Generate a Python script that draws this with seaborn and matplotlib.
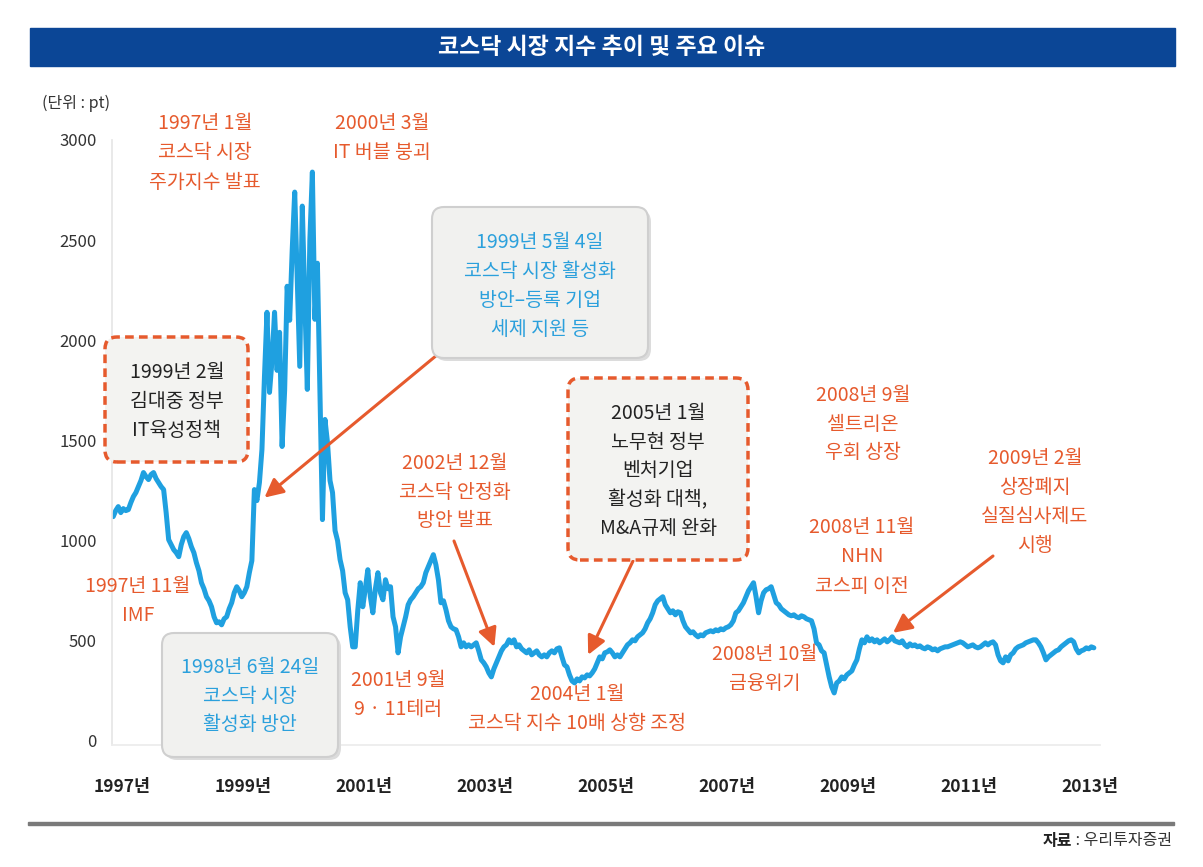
import matplotlib
matplotlib.use('Agg')
import matplotlib.pyplot as plt
from matplotlib.patches import FancyBboxPatch, Rectangle
from matplotlib.transforms import ScaledTranslation
import seaborn as sns
import numpy as np
import pandas as pd

# KOSDAQ index, two readings per month from Jan 1997
start_year = 1997
steps_per_year = 24
kosdaq = [
    1120, 1150, 1170, 1140, 1160, 1150, 1155, 1190, 1220, 1240, 1270, 1300,
    1340, 1320, 1305, 1330, 1340, 1310, 1290, 1270, 1255, 1140, 1005, 980,
    955, 940, 920, 980, 1020, 1040, 1010, 970, 940, 890, 850, 790,
    760, 720, 700, 670, 620, 590, 595, 580, 610, 620, 660, 690,
    740, 770, 750, 720, 740, 770, 840, 900, 1255, 1200, 1290, 1455,
    1820, 2140, 1740, 1900, 2140, 1850, 2040, 1470, 1750, 2270, 2100, 2450,
    2740, 2300, 1870, 2670, 2200, 1755, 2500, 2840, 2105, 2385, 1740, 1105,
    1605, 1490, 1300, 1240, 1050, 1000, 905, 850, 740, 705, 570, 470,
    470, 650, 790, 670, 760, 855, 720, 640, 760, 840, 740, 705,
    805, 760, 770, 620, 570, 440, 520, 570, 620, 680, 705, 720,
    740, 760, 770, 790, 840, 870, 900, 930, 880, 805, 690, 700,
    655, 600, 570, 560, 555, 520, 470, 490, 470, 480, 470, 480,
    490, 450, 405, 390, 370, 340, 320, 360, 390, 420, 450, 470,
    480, 505, 490, 505, 470, 480, 460, 450, 440, 455, 430, 440,
    450, 430, 420, 430, 420, 440, 450, 440, 460, 465, 420, 380,
    370, 330, 300, 290, 310, 300, 320, 315, 330, 325, 340, 360,
    390, 420, 410, 440, 445, 455, 440, 420, 430, 420, 440, 460,
    480, 490, 505, 500, 520, 530, 540, 560, 590, 610, 640, 680,
    700, 710, 720, 680, 660, 640, 650, 630, 645, 640, 600, 570,
    555, 540, 545, 530, 520, 530, 525, 540, 545, 550, 545, 555,
    550, 560, 555, 565, 570, 580, 600, 640, 650, 670, 690, 720,
    750, 770, 790, 720, 640, 700, 740, 755, 760, 770, 730, 690,
    680, 660, 650, 640, 630, 625, 630, 620, 615, 625, 620, 610,
    605, 600, 560, 490, 480, 450, 440, 380, 320, 270, 240, 290,
    300, 320, 310, 330, 340, 350, 380, 405, 460, 505, 490, 520,
    500, 510, 495, 505, 490, 500, 510, 495, 505, 520, 500, 495,
    490, 500, 480, 470, 485, 475, 480, 470, 475, 465, 460, 470,
    465, 455, 460, 450, 460, 465, 470, 470, 475, 480, 485, 490,
    495, 490, 480, 470, 475, 480, 470, 465, 470, 480, 490, 480,
    490, 495, 480, 430, 400, 390, 420, 400, 430, 440, 460, 470,
    475, 480, 490, 495, 500, 505, 505, 490, 470, 440, 405, 420,
    430, 440, 450, 455, 470, 480, 490, 500, 505, 495, 460, 440,
    450, 455, 465, 460, 470, 465,
]

tick_years = [1997, 1999, 2001, 2003, 2005, 2007, 2009, 2011, 2013]
tick_labels = [f'{y}년' for y in tick_years]
y_ticks = [0, 500, 1000, 1500, 2000, 2500, 3000]

title = '코스닥 시장 지수 추이 및 주요 이슈'
unit_label = '(단위 : pt)'
source_head = '자료'
source_body = ' : 우리투자증권'

years = start_year + np.arange(len(kosdaq)) / steps_per_year
df = pd.DataFrame({'year': years, 'index': kosdaq})

W, H = 1203, 867
ORANGE = '#e65a2d'
BLUE_TXT = '#2ba0dc'
LINE = '#1fa0e0'

sns.set_theme(style='white')
plt.rcParams['font.family'] = ['Noto Sans CJK KR', 'DejaVu Sans']

fig = plt.figure(figsize=(W / 100, H / 100), dpi=100)
ax = fig.add_axes([112 / W, 1 - 745 / H, 988 / W, 605 / H])

sns.lineplot(data=df, x='year', y='index', color=LINE, linewidth=3.6, ax=ax)

ax.set_xlim(1996.98, 2013.31)
ax.set_ylim(-20, 3000)
ax.set_xticks(tick_years)
ax.set_xticklabels(tick_labels, fontsize=12.5, fontweight='bold', color='#222222')
ax.set_yticks(y_ticks)
ax.set_yticklabels([str(v) for v in y_ticks], fontsize=12, fontweight='medium', color='#333333')
ax.tick_params(axis='x', length=0, pad=24)
ax.tick_params(axis='y', length=0, pad=11)
ax.set_xlabel('')
ax.set_ylabel('')
for s in ['top', 'right']:
    ax.spines[s].set_visible(False)
ax.spines['left'].set_color('#e6e6e6')
ax.spines['bottom'].set_color('#ececec')
shift = ScaledTranslation(9 / 100, 0, fig.dpi_scale_trans)
for lab in ax.get_xticklabels():
    lab.set_transform(lab.get_transform() + shift)


def inch(x, y):
    return x / 100, (H - y) / 100


def fx(x, y):
    return x / W, 1 - y / H


# title bar
fig.add_artist(Rectangle(inch(30, 66), 1145 / 100, 38 / 100,
                         transform=fig.dpi_scale_trans, color='#0b4696', zorder=5))
fig.text(*fx(602, 47), title, ha='center', va='center', color='white',
         fontsize=16.5, fontweight='bold', zorder=6)
fig.text(*fx(42, 103), unit_label, ha='left', va='center', color='#333333',
         fontsize=11.5, fontweight='medium')

# footer
fig.add_artist(Rectangle(inch(28, 825), 1146 / 100, 3 / 100,
                         transform=fig.dpi_scale_trans, color='#7a7a7a', zorder=5))
body = fig.text(*fx(1172, 841), source_body, ha='right', va='center', color='#333333',
                fontsize=11.5)
fig.canvas.draw()
bx = body.get_window_extent().x0
fig.text(bx / W, 1 - 841 / H, source_head, ha='right', va='center', color='#222222',
         fontsize=11.5, fontweight='bold')


def box(x0, y0, x1, y1, dashed=False):
    if dashed:
        p = FancyBboxPatch(inch(x0, y1), (x1 - x0) / 100, (y1 - y0) / 100,
                           boxstyle='round,pad=0,rounding_size=0.12',
                           transform=fig.dpi_scale_trans, facecolor='#f3f3f1',
                           edgecolor=ORANGE, linewidth=2.5, linestyle=(0, (2.5, 1.5)), zorder=3)
    else:
        shadow = FancyBboxPatch(inch(x0 + 3, y1 + 3), (x1 - x0) / 100, (y1 - y0) / 100,
                                boxstyle='round,pad=0,rounding_size=0.12',
                                transform=fig.dpi_scale_trans, facecolor='#dcdcdc',
                                edgecolor='none', zorder=3)
        fig.add_artist(shadow)
        p = FancyBboxPatch(inch(x0, y1), (x1 - x0) / 100, (y1 - y0) / 100,
                           boxstyle='round,pad=0,rounding_size=0.12',
                           transform=fig.dpi_scale_trans, facecolor='#f1f1ef',
                           edgecolor='#cfcfcf', linewidth=1.5, zorder=3)
    fig.add_artist(p)


def note(x, y, s, color=ORANGE):
    fig.text(*fx(x, y), s, ha='center', va='center', color=color,
             fontsize=14, fontweight='medium', linespacing=1.5, zorder=4)


box(432, 207, 648, 358)
box(162, 633, 338, 757)
box(105, 337, 248, 462, dashed=True)
box(568, 378, 748, 560, dashed=True)

note(205, 153, '1997년 1월\n코스닥 시장\n주가지수 발표')
note(382, 138, '2000년 3월\nIT 버블 붕괴')
note(540, 286, '1999년 5월 4일\n코스닥 시장 활성화\n방안–등록 기업\n세제 지원 등', BLUE_TXT)
note(177, 401, '1999년 2월\n김대중 정부\nIT육성정책', '#222222')
note(455, 492, '2002년 12월\n코스닥 안정화\n방안 발표')
note(658, 471, '2005년 1월\n노무현 정부\n벤처기업\n활성화 대책,\nM&A규제 완화', '#222222')
note(863, 424, '2008년 9월\n셀트리온\n우회 상장')
note(1035, 502, '2009년 2월\n상장폐지\n실질심사제도\n시행')
note(862, 557, '2008년 11월\nNHN\n코스피 이전')
note(765, 669, '2008년 10월\n금융위기')
note(138, 601, '1997년 11월\nIMF')
note(250, 696, '1998년 6월 24일\n코스닥 시장\n활성화 방안', BLUE_TXT)
note(398, 695, '2001년 9월\n9 · 11테러')
note(577, 709, '2004년 1월\n코스닥 지수 10배 상향 조정')

# arrows: (start pixel, target year, target value)
arrows = [((437, 355), 1999.5, 1215),
          ((454, 541), 2003.3, 470),
          ((633, 561), 2004.85, 430),
          ((993, 556), 2009.89, 540)]
for (sx, sy), ty, tv in arrows:
    ax.annotate('', xy=(ty, tv), xycoords='data', xytext=fx(sx, sy),
                textcoords='figure fraction',
                arrowprops=dict(arrowstyle='-|>', color=ORANGE, lw=2.2,
                                mutation_scale=28, shrinkA=0, shrinkB=0),
                zorder=6, annotation_clip=False)

fig.savefig('out.png', dpi=100)
